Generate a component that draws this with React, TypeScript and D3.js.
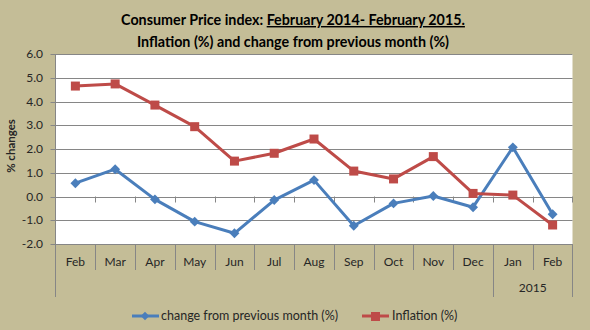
import React from "react";
import * as d3 from "d3";

const months = ["Feb", "Mar", "Apr", "May", "Jun", "Jul", "Aug", "Sep", "Oct", "Nov", "Dec", "Jan", "Feb"];
const changeFromPrev = [0.56, 1.15, -0.12, -1.06, -1.55, -0.15, 0.69, -1.23, -0.29, 0.02, -0.45, 2.07, -0.75];
const inflation = [4.65, 4.74, 3.85, 2.94, 1.49, 1.82, 2.42, 1.07, 0.74, 1.68, 0.13, 0.06, -1.2];
const yTicks = [-2, -1, 0, 1, 2, 3, 4, 5, 6];
const yearGroups = [{ label: "2015", from: 11, to: 12 }];

const BG = "#C4BD97";
const GRID = "#868686";
const BLUE = "#4A7EBB";
const RED = "#BE4B48";
const TXT = "#262626";
const FONT = "Lato, 'Open Sans', sans-serif";

export default function App() {
  const W = 590, H = 330;
  const left = 55.5, right = 572.5, top = 54, bottom = 244;
  const idx = months.map((_, i) => i);
  const x = d3.scaleBand<number>().domain(idx).range([left, right]).padding(0);
  const y = d3.scaleLinear().domain([-2, 6]).range([bottom, top]);
  const cx = (i: number) => (x(i) as number) + x.bandwidth() / 2;
  const line = d3.line<number>().x((_, i) => cx(i)).y((d) => y(d));
  const bw = x.bandwidth();

  return (
    <svg width={W} height={H} style={{ position: "absolute", left: 0, top: 0, display: "block" }} fontFamily={FONT}>
      <rect x={0} y={0} width={W} height={H} fill={BG} />
      <text x={293} y={25} textAnchor="middle" fontSize={14.3} fontWeight="bold" fill="#000">
        <tspan>Consumer Price index: </tspan>
        <tspan textDecoration="underline">February 2014- February 2015.</tspan>
      </text>
      <text x={293} y={47} textAnchor="middle" fontSize={14.3} fontWeight="bold" fill="#000">
        Inflation (%) and change from previous month (%)
      </text>
      <rect x={left} y={top} width={right - left} height={bottom - top} fill="#fff" />
      {yTicks.map((t) => (
        <g key={t}>
          <line x1={left - 5} x2={right} y1={Math.round(y(t)) + 0.5} y2={Math.round(y(t)) + 0.5} stroke={GRID} strokeWidth={1} />
          <text x={43} y={y(t) + 4} textAnchor="end" fontSize={12} fill={TXT}>{t.toFixed(1)}</text>
        </g>
      ))}
      {idx.map((i) => (
        <line key={"t" + i} x1={Math.round((x(i) as number) + bw) + 0.5} x2={Math.round((x(i) as number) + bw) + 0.5}
          y1={y(0)} y2={y(0) + 6} stroke={GRID} strokeWidth={1} />
      ))}
      <line x1={left} x2={left} y1={top} y2={297} stroke={GRID} strokeWidth={1} />
      {idx.map((i) => {
        const xb = Math.round((x(i) as number) + bw) + 0.5;
        const full = i === 12 || yearGroups.some((g) => g.from - 1 === i);
        return <line key={"s" + i} x1={xb} x2={xb} y1={bottom} y2={full ? 297 : 270} stroke={GRID} strokeWidth={1} />;
      })}
      {idx.map((i) => (
        <text key={"m" + i} x={cx(i)} y={266} textAnchor="middle" fontSize={12} fill={TXT}>{months[i]}</text>
      ))}
      {yearGroups.map((g) => (
        <text key={g.label} x={((x(g.from) as number) + (x(g.to) as number) + bw) / 2} y={292} textAnchor="middle" fontSize={12} fill={TXT}>{g.label}</text>
      ))}
      <text transform={`translate(15,146) rotate(-90)`} textAnchor="middle" fontSize={11.5} fontWeight="bold" fill={TXT}>% changes</text>

      <path d={line(changeFromPrev) || ""} fill="none" stroke={BLUE} strokeWidth={3} strokeLinejoin="round" />
      <path d={line(inflation) || ""} fill="none" stroke={RED} strokeWidth={3} strokeLinejoin="round" />
      {changeFromPrev.map((v, i) => (
        <rect key={"b" + i} x={cx(i) - 3.5} y={y(v) - 3.5} width={7} height={7} fill={BLUE}
          transform={`rotate(45 ${cx(i)} ${y(v)})`} />
      ))}
      {inflation.map((v, i) => (
        <rect key={"r" + i} x={cx(i) - 4.5} y={y(v) - 4.5} width={9} height={9} fill={RED} />
      ))}

      <line x1={132} x2={159} y1={316} y2={316} stroke={BLUE} strokeWidth={3} />
      <rect x={142} y={313} width={6} height={6} fill={BLUE} transform="rotate(45 145 316)" />
      <text x={161} y={320} fontSize={12.5} fill={TXT}>change from previous month (%)</text>
      <line x1={362} x2={389} y1={316} y2={316} stroke={RED} strokeWidth={3} />
      <rect x={371} y={312} width={9} height={9} fill={RED} />
      <text x={392} y={320} fontSize={12.5} fill={TXT}>Inflation (%)</text>
    </svg>
  );
}
